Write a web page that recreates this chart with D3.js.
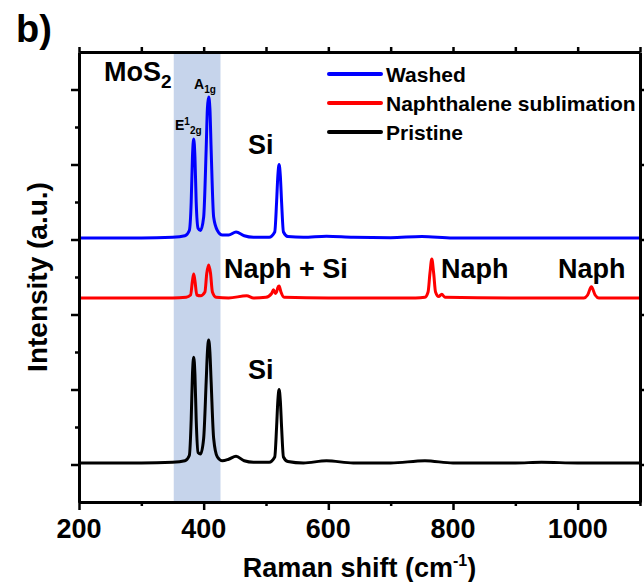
<!DOCTYPE html>
<html>
<head>
<meta charset="utf-8">
<script src="https://cdn.jsdelivr.net/npm/d3@7"></script>
<style>
  body { margin: 0; background: #fff; }
  text { font-family: "Liberation Sans", Arial, sans-serif; font-weight: bold; fill: #000; }
</style>
</head>
<body>
<div id="chart"></div>
<script>
// === Data (Raman shift cm-1, offset intensity a.u.) ===
const washed = [
  [200, 3.02], [300, 3.02], [350, 3.03], [370, 3.05], [377, 3.12], [380, 3.5], [382, 4.1], [384, 4.34],
  [386, 4.1], [388, 3.5], [391, 3.15], [395, 3.12], [400, 3.3], [404, 4.2], [406, 4.75], [408, 4.9],
  [410, 4.75], [412, 4.2], [416, 3.3], [422, 3.12], [430, 3.06], [440, 3.06], [452, 3.1], [465, 3.05],
  [480, 3.03], [505, 3.03], [514, 3.1], [517, 3.5], [519, 3.85], [521, 4.0], [523, 3.85], [525, 3.5],
  [528, 3.1], [535, 3.04], [560, 3.03], [597, 3.045], [640, 3.03], [700, 3.025], [750, 3.04], [800, 3.02],
  [900, 3.02], [1000, 3.02], [1100, 3.02]
];
const naphthalene = [
  [200, 2.22], [350, 2.22], [372, 2.23], [379, 2.26], [382, 2.45], [384, 2.54], [386, 2.45], [389, 2.26],
  [395, 2.25], [402, 2.3], [405, 2.55], [408, 2.66], [411, 2.55], [414, 2.3], [420, 2.23], [440, 2.22],
  [469, 2.25], [480, 2.22], [500, 2.23], [509, 2.28], [512, 2.33], [515, 2.28], [517, 2.3], [519, 2.36],
  [521, 2.38], [524, 2.3], [529, 2.23], [600, 2.22], [740, 2.22], [755, 2.23], [760, 2.3], [763, 2.55],
  [766, 2.74], [769, 2.55], [772, 2.3], [777, 2.24], [782, 2.27], [787, 2.23], [900, 2.22], [1010, 2.22],
  [1016, 2.26], [1022, 2.37], [1028, 2.26], [1034, 2.22], [1100, 2.22]
];
const pristine = [
  [200, 0.02], [300, 0.02], [350, 0.03], [370, 0.05], [377, 0.12], [380, 0.6], [382, 1.2], [384, 1.43],
  [386, 1.2], [388, 0.6], [391, 0.16], [395, 0.14], [400, 0.35], [404, 1.1], [406, 1.5], [408, 1.66],
  [410, 1.5], [412, 1.1], [416, 0.35], [422, 0.1], [430, 0.05], [440, 0.07], [452, 0.11], [465, 0.05],
  [480, 0.03], [505, 0.03], [514, 0.1], [517, 0.5], [519, 0.85], [521, 1.0], [523, 0.85], [525, 0.5],
  [528, 0.1], [535, 0.04], [560, 0.02], [597, 0.05], [640, 0.02], [700, 0.02], [755, 0.05], [800, 0.02],
  [900, 0.02], [942, 0.03], [1000, 0.02], [1100, 0.02]
];

const seriesNames = ["Washed", "Naphthalene sublimation", "Pristine"];
const seriesColors = ["#0000ff", "#ff0000", "#000000"];
const mos2Band = [352, 427];  // shaded MoS2 region

const xMajorTicks = [200, 400, 600, 800, 1000];
const xMinorTicks = [300, 500, 700, 900, 1100];
const yMajorTicks = [0, 1, 2, 3, 4, 5];
const yMinorTicks = [0.5, 1.5, 2.5, 3.5, 4.5];

// === Layout ===
const W = 644, H = 582;
const plotLeft = 79, plotRight = 640, plotTop = 52, plotBottom = 502;

const svg = d3.select("#chart").append("svg")
  .attr("width", W).attr("height", H);

const x = d3.scaleLinear().domain([200, 1100]).range([plotLeft, plotRight]);
const y = d3.scaleLinear().domain([-0.5, 5.5]).range([plotBottom, plotTop]);

// Shaded band
svg.append("rect")
  .attr("x", x(mos2Band[0])).attr("y", plotTop)
  .attr("width", x(mos2Band[1]) - x(mos2Band[0])).attr("height", plotBottom - plotTop)
  .attr("fill", "#c6d4eb");

// Spectra
const line = d3.line().x(d => x(d[0])).y(d => y(d[1])).curve(d3.curveMonotoneX);
[washed, naphthalene, pristine].forEach((s, i) => {
  svg.append("path").datum(s)
    .attr("fill", "none")
    .attr("stroke", seriesColors[i])
    .attr("stroke-width", 3)
    .attr("stroke-linejoin", "round")
    .attr("d", line);
});

// Axes (major + minor ticks, no y labels)
function styleAxis(g) {
  g.select(".domain").attr("stroke", "#000").attr("stroke-width", 3);
  g.selectAll(".tick line").attr("stroke", "#000").attr("stroke-width", 2.5);
  g.selectAll("text").remove();
}
const xb = svg.append("g").attr("transform", `translate(0,${plotBottom})`);
xb.append("g").call(d3.axisBottom(x).tickValues(xMinorTicks).tickSize(4).tickSizeOuter(0)).call(styleAxis);
xb.append("g").call(d3.axisBottom(x).tickValues(xMajorTicks).tickSize(8).tickSizeOuter(0)).call(styleAxis);
xb.selectAll(null).data(xMajorTicks).enter().append("text")
  .attr("x", d => x(d)).attr("y", 36)
  .attr("text-anchor", "middle").style("font-size", "27px")
  .text(d => d);

const xt = svg.append("g").attr("transform", `translate(0,${plotTop})`);
xt.append("g").call(d3.axisTop(x).tickValues(xMajorTicks.concat(xMinorTicks)).tickSize(5).tickSizeOuter(0)).call(styleAxis);

const yl = svg.append("g").attr("transform", `translate(${plotLeft},0)`);
yl.append("g").call(d3.axisLeft(y).tickValues(yMinorTicks).tickSize(4).tickSizeOuter(0)).call(styleAxis);
yl.append("g").call(d3.axisLeft(y).tickValues(yMajorTicks).tickSize(8).tickSizeOuter(0)).call(styleAxis);

const yr = svg.append("g").attr("transform", `translate(${plotRight},0)`);
yr.append("g").call(d3.axisRight(y).tickValues(yMajorTicks).tickSize(8).tickSizeOuter(0)).call(styleAxis);

// Axis titles
const xTitle = svg.append("text")
  .attr("x", (plotLeft + plotRight) / 2).attr("y", 577)
  .attr("text-anchor", "middle").style("font-size", "27px");
xTitle.append("tspan").text("Raman shift (cm");
xTitle.append("tspan").attr("dy", -11).style("font-size", "16px").text("-1");
xTitle.append("tspan").attr("dy", 11).text(")");

svg.append("text")
  .attr("transform", "translate(47,277) rotate(-90)")
  .attr("text-anchor", "middle").style("font-size", "28px")
  .text("Intensity (a.u.)");

// Panel label
svg.append("text").attr("x", 16).attr("y", 42).style("font-size", "38px").text("b)");

// Annotations
const mos2 = svg.append("text").attr("x", 104).attr("y", 81).style("font-size", "27px");
mos2.append("tspan").text("MoS");
mos2.append("tspan").attr("dy", 7).style("font-size", "19px").text("2");

const a1g = svg.append("text").attr("x", 194).attr("y", 89).style("font-size", "14px");
a1g.append("tspan").text("A");
a1g.append("tspan").attr("dy", 4).style("font-size", "10px").text("1g");

const e2g = svg.append("text").attr("x", 175).attr("y", 130).style("font-size", "14px");
e2g.append("tspan").text("E");
e2g.append("tspan").attr("dy", -5).style("font-size", "10px").text("1");
e2g.append("tspan").attr("dy", 9).style("font-size", "10px").text("2g");

svg.append("text").attr("x", 248).attr("y", 154).style("font-size", "27px").text("Si");
svg.append("text").attr("x", 248).attr("y", 379).style("font-size", "27px").text("Si");
svg.append("text").attr("x", 224).attr("y", 278).style("font-size", "27px").text("Naph + Si");
svg.append("text").attr("x", 441).attr("y", 278).style("font-size", "27px").text("Naph");
svg.append("text").attr("x", 558).attr("y", 278).style("font-size", "27px").text("Naph");

// Legend
const legend = svg.append("g");
seriesNames.forEach((name, i) => {
  const ly = 74 + i * 29;
  legend.append("line")
    .attr("x1", 329).attr("x2", 381).attr("y1", ly).attr("y2", ly)
    .attr("stroke", seriesColors[i]).attr("stroke-width", 4).attr("stroke-linecap", "round");
  legend.append("text")
    .attr("x", 386).attr("y", ly + 8).style("font-size", "21px")
    .text(name);
});
</script>
</body>
</html>
